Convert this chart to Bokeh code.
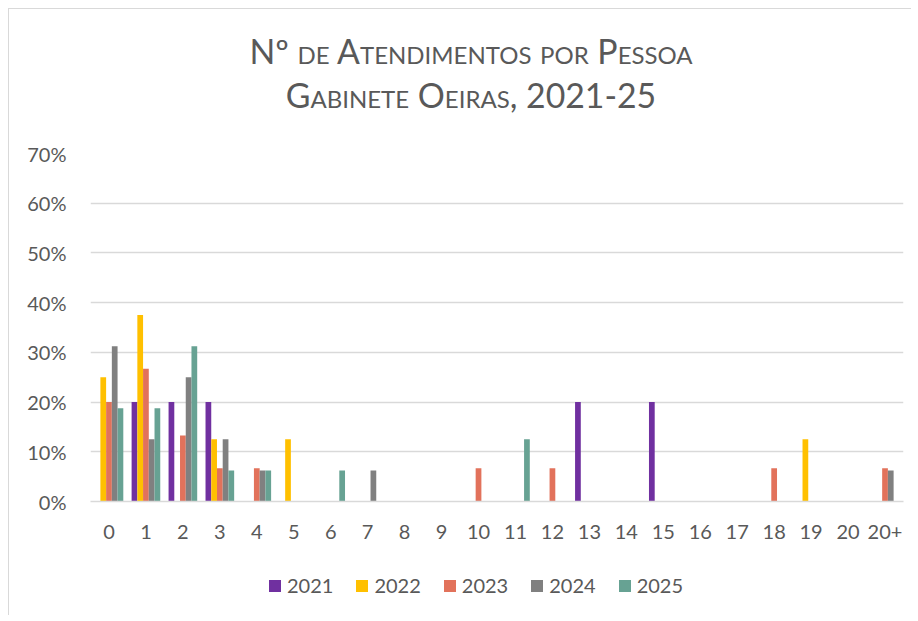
from bokeh.plotting import figure
from bokeh.models import (FactorRange, Range1d, Legend, LegendItem, Div,
                          NumeralTickFormatter, FixedTicker, ColumnDataSource)
from bokeh.layouts import column
from bokeh.transform import dodge
from bokeh.embed import file_html
from bokeh.resources import INLINE

categories = [str(i) for i in range(21)] + ["20+"]
years = ["2021", "2022", "2023", "2024", "2025"]
#            0      1      2      3      4      5      6      7  8  9  10     11     12     13   14  15   16 17  18     19     20  20+
v2021 = [0.0,   0.2,   0.2,   0.2,   0.0,   0.0,   0.0,   0.0, 0, 0, 0.0,   0.0,   0.0,   0.2, 0, 0.2, 0, 0, 0.0,   0.0,   0, 0.0]
v2022 = [0.25,  0.375, 0.0,   0.125, 0.0,   0.125, 0.0,   0.0, 0, 0, 0.0,   0.0,   0.0,   0.0, 0, 0.0, 0, 0, 0.0,   0.125, 0, 0.0]
v2023 = [0.2,   0.267, 0.133, 0.067, 0.067, 0.0,   0.0,   0.0, 0, 0, 0.067, 0.0,   0.067, 0.0, 0, 0.0, 0, 0, 0.067, 0.0,   0, 0.067]
v2024 = [0.3125, 0.125, 0.25, 0.125, 0.0625, 0.0,  0.0, 0.0625, 0, 0, 0.0,  0.0,   0.0,   0.0, 0, 0.0, 0, 0, 0.0,   0.0,   0, 0.0625]
v2025 = [0.1875, 0.1875, 0.3125, 0.0625, 0.0625, 0.0, 0.0625, 0.0, 0, 0, 0.0, 0.125, 0.0,   0.0, 0, 0.0, 0, 0, 0.0,   0.0,   0, 0.0]
y_ticks = [0, 0.1, 0.2, 0.3, 0.4, 0.5, 0.6, 0.7]

colors = ["#7030A0", "#FFC000", "#E2725B", "#808080", "#67A293"]
series = [v2021, v2022, v2023, v2024, v2025]

FONT = "Lato"
TXT = "#595959"

src = ColumnDataSource(dict(cat=categories, **{y: s for y, s in zip(years, series)}))

# ---- main chart ----
p = figure(x_range=FactorRange(*categories), y_range=Range1d(0, 0.7),
           width=902, height=411, output_backend="svg", toolbar_location=None,
           min_border_left=81, min_border_right=8, min_border_top=19, min_border_bottom=44)

bw = 0.155
offsets = [-2 * bw, -bw, 0, bw, 2 * bw]
for yr, col, off in zip(years, colors, offsets):
    p.vbar(x=dodge("cat", off, range=p.x_range), top=yr, width=bw, source=src,
           fill_color=col, line_color=None)

p.outline_line_color = None
p.xgrid.grid_line_color = None
p.ygrid.grid_line_color = "#d9d9d9"
p.ygrid.grid_line_width = 1.5
p.ygrid.ticker = FixedTicker(ticks=y_ticks)

p.yaxis.ticker = FixedTicker(ticks=y_ticks)
p.yaxis.formatter = NumeralTickFormatter(format="0%")
p.yaxis.axis_line_color = None
p.yaxis.major_tick_line_color = None
p.yaxis.minor_tick_line_color = None
p.yaxis.major_label_standoff = 18
p.yaxis.major_label_text_font = FONT
p.yaxis.major_label_text_font_size = "20px"
p.yaxis.major_label_text_color = TXT

p.xaxis.axis_line_color = "#d9d9d9"
p.xaxis.axis_line_width = 1.5
p.xaxis.major_tick_line_color = None
p.xaxis.minor_tick_line_color = None
p.xaxis.major_label_standoff = 17
p.xaxis.major_label_text_font = FONT
p.xaxis.major_label_text_font_size = "20px"
p.xaxis.major_label_text_color = TXT

# ---- legend strip (separate figure, frames are aligned by the column) ----
lf = figure(width=902, height=70, x_range=Range1d(0, 1), y_range=Range1d(0, 1),
            output_backend="svg", toolbar_location=None,
            x_axis_type=None, y_axis_type=None,
            min_border_left=0, min_border_right=0, min_border_top=0, min_border_bottom=0)
lf.outline_line_color = None
lf.xgrid.grid_line_color = None
lf.ygrid.grid_line_color = None
items = []
for yr, col in zip(years, colors):
    # one point placed far outside the visible range: only its legend swatch shows
    r = lf.vbar(x=[-50], top=[-50], bottom=[-51], width=0.1, fill_color=col, line_color=None)
    items.append(LegendItem(label=yr, renderers=[r]))

legend = Legend(items=items, orientation="horizontal", location=(177, 18),
                glyph_width=15, glyph_height=15, label_standoff=5, spacing=21,
                padding=0, margin=0, border_line_color=None, background_fill_alpha=0,
                label_text_font=FONT, label_text_font_size="20px", label_text_color=TXT)
lf.add_layout(legend, "center")

# ---- title ----
title = Div(text=(
    '<div style="box-sizing:border-box;width:902px;padding-left:22px;text-align:center;'
    'font-family:Lato;font-size:33.8px;font-variant:small-caps;color:#595959;'
    'line-height:44px;padding-top:20px;">'
    'Nº de Atendimentos por Pessoa<br>Gabinete Oeiras, 2021-25</div>'),
    width=902, height=125, margin=0)

layout = column(title, p, lf, spacing=0,
                styles={"margin-left": "8px", "margin-top": "8px",
                        "border-top": "1px solid #d9d9d9", "border-left": "1px solid #d9d9d9"})

open("out.html", "w").write(file_html(layout, INLINE))
